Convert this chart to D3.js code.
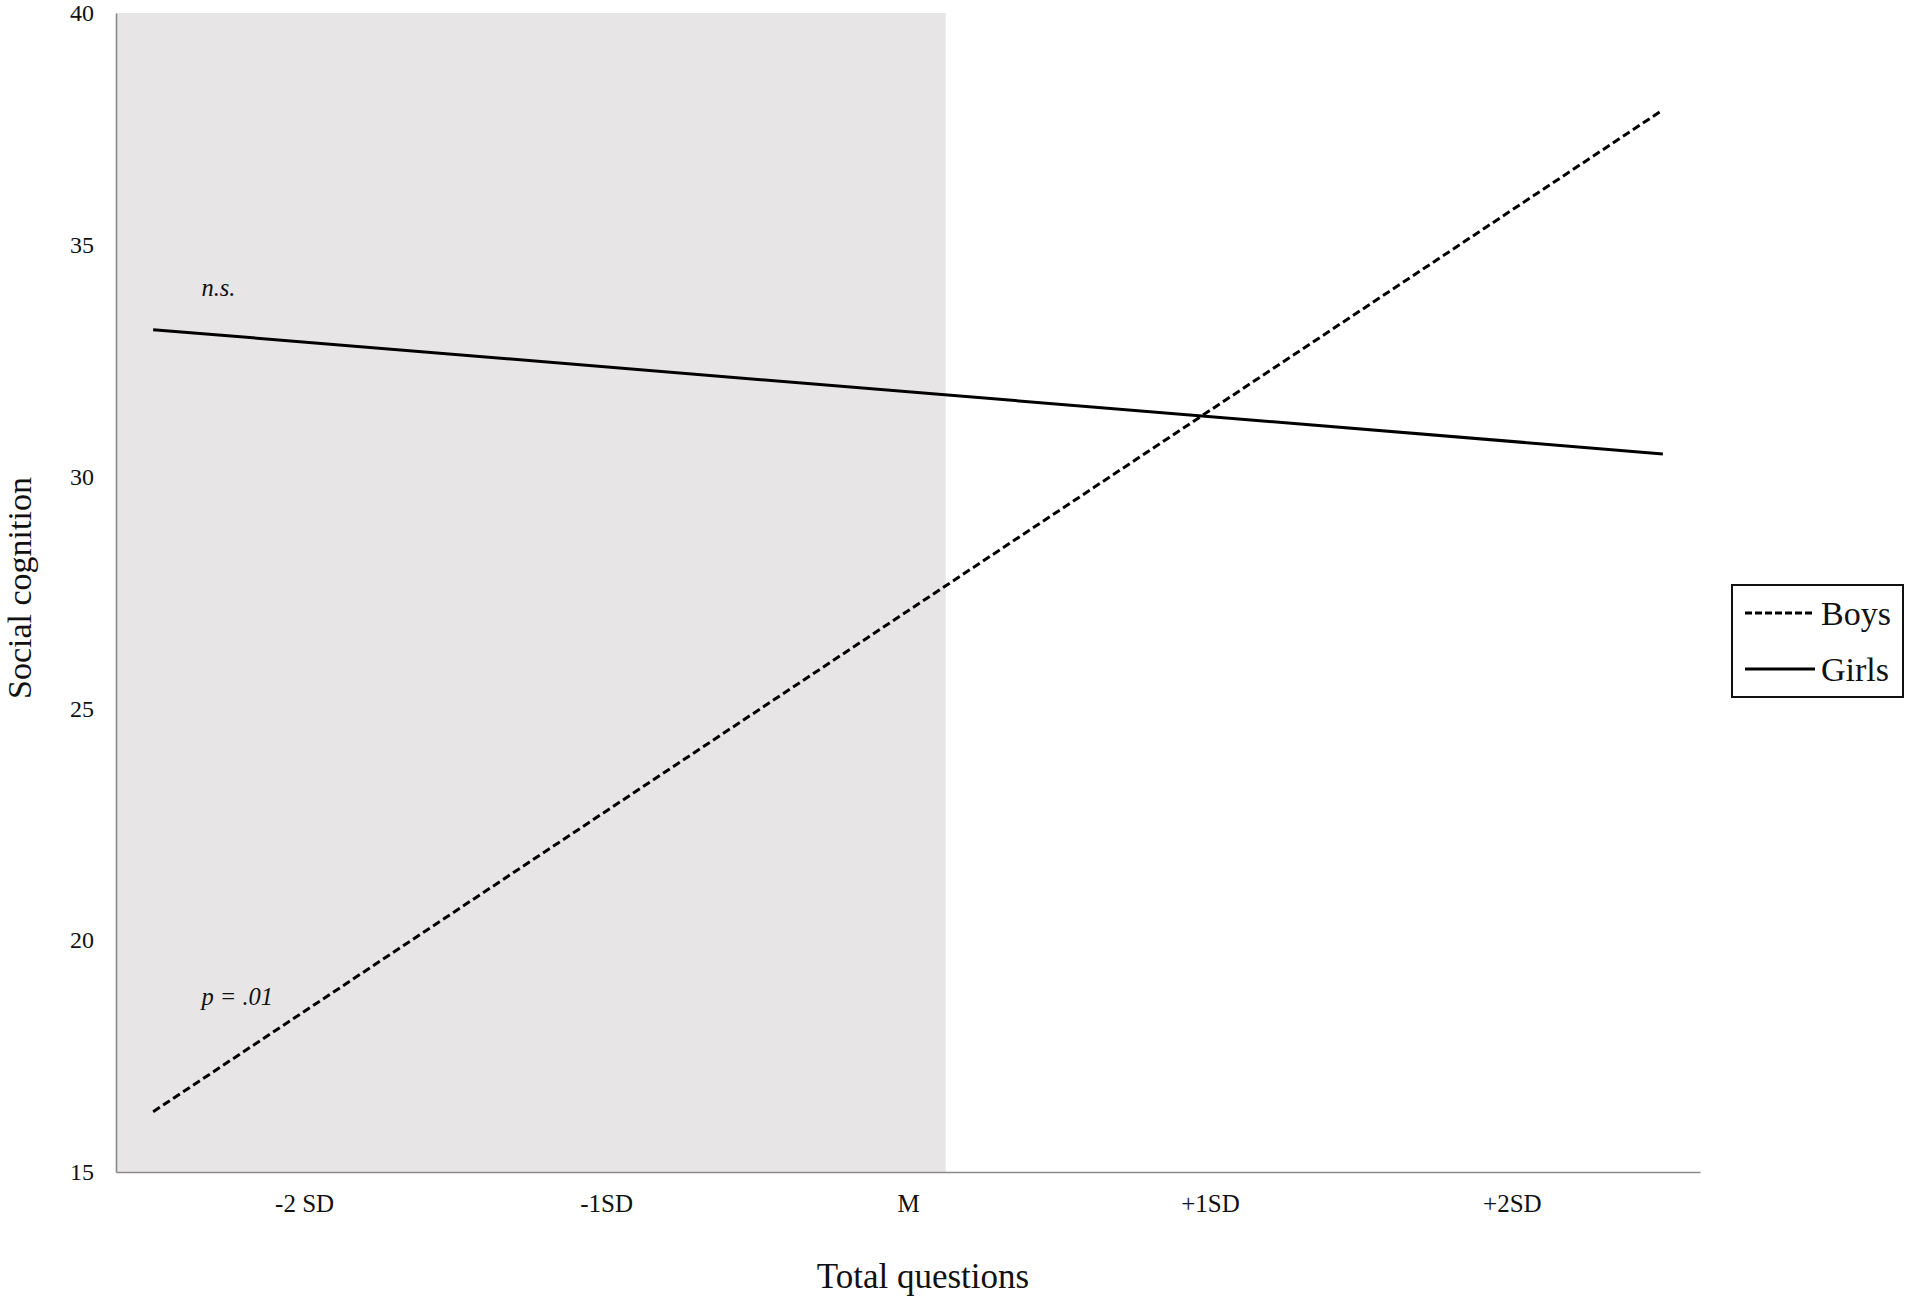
<!DOCTYPE html>
<html><head><meta charset="utf-8">
<script src="https://cdn.jsdelivr.net/npm/d3@7"></script>
<style>body{margin:0;background:#fff;} svg{display:block;}</style>
</head><body>
<svg id="c" width="1906" height="1299"></svg>
<script>
// Data
const xTickValues = [-2, -1, 0, 1, 2];
const xTickLabels = ["-2 SD", "-1SD", "M", "+1SD", "+2SD"];
const yTicks = [15, 20, 25, 30, 35, 40];
const lineX = [-2.5, 2.5];
const boys = [16.30, 37.91];
const girls = [33.17, 30.49];
const regionEnd = 0.125; // Johnson-Neyman region upper bound (SD units)
const annotations = [{text: "n.s.", x: -2.34, y: 33.9}, {text: "p = .01", x: -2.34, y: 18.6}];

const svg = d3.select("#c");
const L = 116, R = 1700, T = 13, B = 1172;
const x = d3.scaleLinear().domain([-2.623, 2.623]).range([L, R]);
const y = d3.scaleLinear().domain([15, 40]).range([B, T]);
const font = "'Liberation Serif', 'DejaVu Serif', serif";

svg.append("rect").attr("x", x.range()[0]).attr("y", y(40))
  .attr("width", x(regionEnd) - x.range()[0]).attr("height", y(15) - y(40))
  .attr("fill", "#e7e5e6");

const yAxis = svg.append("g").attr("transform", `translate(${L},0)`)
  .call(d3.axisLeft(y).tickValues(yTicks).tickSize(0).tickPadding(22));
const xAxis = svg.append("g").attr("transform", `translate(0,${B})`)
  .call(d3.axisBottom(x).tickValues(xTickValues).tickFormat((d,i)=>xTickLabels[i]).tickSize(0).tickPadding(22));
[yAxis, xAxis].forEach(g => {
  g.select(".domain").attr("stroke", "#8a8a8a").attr("stroke-width", 1.6);
  g.selectAll("text").attr("font-family", font).attr("font-size", 24).attr("fill", "#111");
});
xAxis.selectAll("text").attr("font-size", 25);
yAxis.selectAll("text").attr("dy", "0.32em");

const line = d3.line().x(d => x(d[0])).y(d => y(d[1]));
svg.append("path").datum(lineX.map((v,i)=>[v, girls[i]])).attr("d", line)
  .attr("fill", "none").attr("stroke", "#000").attr("stroke-width", 3);
svg.append("path").datum(lineX.map((v,i)=>[v, boys[i]])).attr("d", line)
  .attr("fill", "none").attr("stroke", "#000").attr("stroke-width", 3).attr("stroke-dasharray", "8,4");

annotations.forEach(a => svg.append("text").attr("x", x(a.x)).attr("y", y(a.y))
  .attr("font-family", font).attr("font-style", "italic").attr("font-size", 24.5).attr("fill", "#111").text(a.text));

svg.append("text").attr("transform", `translate(31,588) rotate(-90)`).attr("text-anchor", "middle")
  .attr("font-family", font).attr("font-size", 34).attr("fill", "#111").text("Social cognition");
svg.append("text").attr("x", 923).attr("y", 1288).attr("text-anchor", "middle")
  .attr("font-family", font).attr("font-size", 35).attr("fill", "#111").text("Total questions");

// Legend
const lg = svg.append("g");
lg.append("rect").attr("x", 1732).attr("y", 585).attr("width", 171).attr("height", 112)
  .attr("fill", "#fff").attr("stroke", "#111").attr("stroke-width", 2);
const items = [{name: "Boys", dash: "7,3"}, {name: "Girls", dash: null}];
items.forEach((it, i) => {
  const yy = 613 + i * 56;
  lg.append("line").attr("x1", 1745).attr("x2", 1815).attr("y1", yy).attr("y2", yy)
    .attr("stroke", "#000").attr("stroke-width", 3).attr("stroke-dasharray", it.dash);
  lg.append("text").attr("x", 1821).attr("y", yy).attr("dy", "0.35em")
    .attr("font-family", font).attr("font-size", 34).attr("fill", "#111").text(it.name);
});
</script>
</body></html>
